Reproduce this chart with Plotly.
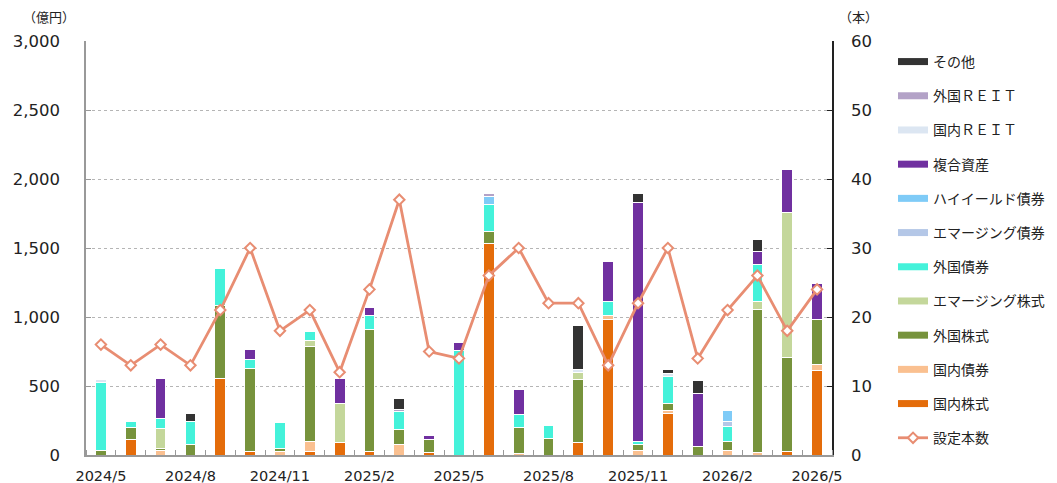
import plotly.graph_objects as go

months = ["2024/5", "2024/6", "2024/7", "2024/8", "2024/9", "2024/10", "2024/11", "2024/12",
          "2025/1", "2025/2", "2025/3", "2025/4", "2025/5", "2025/6", "2025/7", "2025/8",
          "2025/9", "2025/10", "2025/11", "2025/12", "2026/1", "2026/2", "2026/3", "2026/4", "2026/5"]

dom_equity = [0, 111, 0, 0, 554, 29, 0, 22, 89, 29, 0, 17, 0, 1533, 0, 0, 89, 984, 0, 300, 0, 0, 0, 29, 614]
dom_bond = [0, 0, 36, 0, 0, 0, 27, 73, 0, 0, 77, 0, 0, 0, 12, 0, 0, 29, 36, 24, 0, 36, 17, 0, 44]
for_equity = [36, 87, 12, 77, 527, 597, 17, 692, 0, 878, 109, 97, 0, 87, 186, 118, 459, 0, 41, 48, 65, 60, 1035, 677, 326]
em_equity = [0, 0, 147, 0, 0, 0, 0, 41, 283, 0, 0, 0, 0, 0, 0, 0, 48, 0, 0, 0, 0, 0, 58, 1052, 0]
for_bond = [488, 48, 68, 169, 273, 63, 190, 65, 0, 106, 128, 0, 754, 198, 92, 95, 0, 97, 19, 200, 0, 109, 273, 0, 0]
em_bond = [0, 0, 0, 0, 0, 0, 0, 0, 0, 0, 0, 0, 0, 0, 0, 0, 0, 0, 0, 0, 0, 41, 0, 0, 0]
high_yield = [0, 0, 0, 0, 0, 0, 0, 0, 0, 0, 0, 0, 0, 56, 0, 0, 0, 0, 0, 0, 0, 80, 0, 0, 0]
multi_asset = [0, 0, 290, 0, 0, 77, 0, 0, 181, 56, 0, 29, 60, 0, 186, 0, 0, 295, 1734, 0, 380, 0, 89, 314, 261]
dom_reit = [24, 0, 0, 0, 0, 0, 0, 0, 0, 0, 0, 0, 0, 0, 0, 0, 24, 0, 0, 17, 0, 0, 0, 0, 0]
for_reit = [0, 0, 0, 0, 0, 0, 0, 0, 0, 0, 14, 0, 0, 19, 0, 0, 0, 0, 0, 0, 0, 0, 0, 0, 0]
other = [0, 0, 0, 53, 0, 0, 0, 0, 0, 0, 85, 0, 0, 0, 0, 0, 319, 0, 68, 27, 92, 0, 87, 0, 0]
fund_count = [16, 13, 16, 13, 21, 30, 18, 21, 12, 24, 37, 15, 14, 26, 30, 22, 22, 13, 22, 30, 14, 21, 26, 18, 24]

series = [
    ("国内株式", dom_equity, "#e46c0a"),
    ("国内債券", dom_bond, "#fac090"),
    ("外国株式", for_equity, "#77933c"),
    ("エマージング株式", em_equity, "#c4d79b"),
    ("外国債券", for_bond, "#44f2da"),
    ("エマージング債券", em_bond, "#b4c7e7"),
    ("ハイイールド債券", high_yield, "#7fcbf7"),
    ("複合資産", multi_asset, "#7030a0"),
    ("国内ＲＥＩＴ", dom_reit, "#dce6f2"),
    ("外国ＲＥＩＴ", for_reit, "#b3a2c7"),
    ("その他", other, "#333333"),
]

LINE_COLOR = "#e88d72"
xs = list(range(len(months)))
tick_idx = xs[::3]
n_series = len(series)

fig = go.Figure()
for i, (name, vals, color) in enumerate(series):
    fig.add_trace(go.Bar(
        x=xs, y=vals, name=name, showlegend=False,
        marker=dict(color=color, line=dict(color="white", width=1)),
    ))
    # legend swatch (wide rectangle like the original)
    fig.add_trace(go.Scatter(
        x=[None], y=[None], name=name, mode="lines",
        line=dict(color=color, width=7),
        legendgroup=name, legendrank=n_series - i,
    ))
fig.add_trace(go.Scatter(
    x=xs, y=fund_count, name="設定本数", yaxis="y2", mode="lines+markers",
    line=dict(color=LINE_COLOR, width=2.8),
    marker=dict(symbol="diamond", size=8, color="white", line=dict(color=LINE_COLOR, width=2)),
    legendgroup="count", legendrank=n_series + 1,
))

# the page body adds an 8px offset, so the figure is sized to fit the window
fig.update_layout(
    width=1049, height=475,
    barmode="stack", bargap=0.64,
    plot_bgcolor="white", paper_bgcolor="white",
    margin=dict(l=78, r=225, t=33, b=28, autoexpand=False),
    font=dict(family="DejaVu Sans", color="#222222"),
    showlegend=True,
    legend=dict(
        x=1.0818, xanchor="left", y=0.988, yanchor="top",
        traceorder="grouped", tracegroupgap=13.0,
        font=dict(family="Noto Sans CJK JP", size=14, color="#222222"),
        itemwidth=30, bgcolor="rgba(0,0,0,0)",
    ),
    xaxis=dict(
        range=[-0.5, len(months) - 0.5], automargin=False,
        tickvals=tick_idx, ticktext=[months[i] for i in tick_idx],
        ticks="", showgrid=False, showline=True, linecolor="#999999", linewidth=1.5,
        tickfont=dict(size=14.5, color="#222222"), ticklabelstandoff=7,
        minor=dict(tick0=0.5, dtick=1, ticks="inside", ticklen=5, tickcolor="#999999"),
        zeroline=False,
    ),
    yaxis=dict(
        range=[0, 3000], dtick=500, tickformat=",", automargin=False,
        showgrid=True, gridcolor="#b5b5b5", griddash="dot", gridwidth=1,
        showline=True, linecolor="#999999", linewidth=1.5,
        ticks="inside", ticklen=5, tickcolor="#999999",
        tickfont=dict(size=16.5, color="#222222"), ticklabelstandoff=21,
        zeroline=False,
    ),
    yaxis2=dict(
        range=[0, 60], dtick=10, overlaying="y", side="right", automargin=False,
        showgrid=False, showline=True, linecolor="#222222", linewidth=1.5,
        ticks="inside", ticklen=5, tickcolor="#222222",
        tickfont=dict(size=16.5, color="#222222"), ticklabelstandoff=14,
        zeroline=False,
    ),
    annotations=[
        dict(text="（億円）", xref="paper", yref="paper", x=-0.0496, y=1.058, xanchor="center", yanchor="middle",
             showarrow=False, font=dict(family="Noto Sans CJK JP", size=13, color="#222222")),
        dict(text="（本）", xref="paper", yref="paper", x=1.035, y=1.058, xanchor="center", yanchor="middle",
             showarrow=False, font=dict(family="Noto Sans CJK JP", size=13, color="#222222")),
    ],
)

fig.write_html("out.html")
